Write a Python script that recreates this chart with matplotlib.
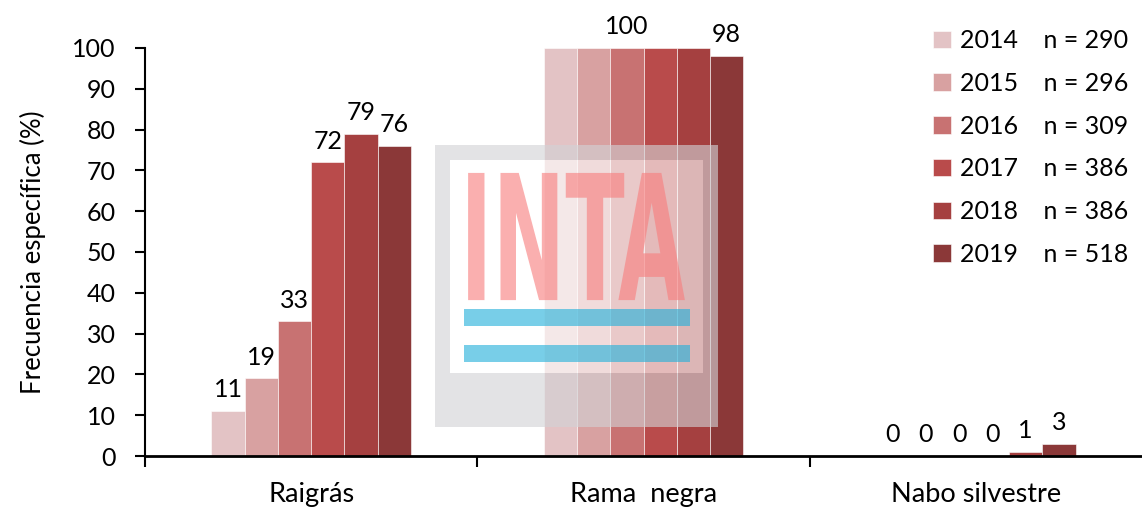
import matplotlib
matplotlib.use('Agg')
import matplotlib.pyplot as plt
from matplotlib.patches import Rectangle, PathPatch
from matplotlib.path import Path
from matplotlib.textpath import TextPath
from matplotlib.font_manager import FontProperties
from matplotlib.transforms import Affine2D
import numpy as np

plt.rcParams['font.family'] = ['Lato', 'DejaVu Sans']

# datos
especies = ['Raigrás', 'Rama  negra', 'Nabo silvestre']
anios = ['2014', '2015', '2016', '2017', '2018', '2019']
n_muestras = [290, 296, 309, 386, 386, 518]
frecuencias = {
    '2014': [11, 100, 0],
    '2015': [19, 100, 0],
    '2016': [33, 100, 0],
    '2017': [72, 100, 0],
    '2018': [79, 100, 1],
    '2019': [76, 98, 3],
}
colores = ['#E3C3C5', '#D8A1A1', '#C87272', '#B94B4B', '#A54040', '#8B3838']

fig = plt.figure(figsize=(11.42, 5.08), dpi=100)
ax = fig.add_axes([145/1142, 1 - 456/508, 1 - 145/1142, (456 - 48)/508])

x = np.arange(len(especies))
ancho = 0.1
handles = []
for i, anio in enumerate(anios):
    pos = x + (i - 2.5) * ancho
    vals = frecuencias[anio]
    b = ax.bar(pos, vals, ancho, color=colores[i], edgecolor='white', linewidth=0.4, zorder=2)
    handles.append(b)
    for j, (p, v) in enumerate(zip(pos, vals)):
        # en Rama negra solo se rotula el 100 de 2016 y el ultimo valor
        if j == 1 and i not in (2, 5):
            continue
        ax.annotate(str(v), (p, v), xytext=(0, 7), textcoords='offset points',
                    ha='center', va='bottom', fontsize=18, annotation_clip=False)

ax.set_xlim(-0.5, 2.5)
ax.set_ylim(0, 100)
ax.set_yticks(range(0, 101, 10))
ax.set_xticks(x)
ax.set_xticklabels(especies, fontsize=19.5)
ax.set_xticks([-0.5, 0.5, 1.5], minor=True)
ax.tick_params(axis='x', which='major', length=0, pad=19)
ax.tick_params(axis='x', which='minor', length=8, width=1.5, direction='out')
ax.tick_params(axis='y', length=7, width=1.5, direction='out', labelsize=18, pad=14)
for s in ['top', 'right']:
    ax.spines[s].set_visible(False)
ax.spines['bottom'].set_linewidth(2)
ax.spines['left'].set_linewidth(1.5)
ax.set_ylabel('Frecuencia específica (%)', fontsize=18.5, labelpad=19)

etiquetas = [f'{a}    n = {n}' for a, n in zip(anios, n_muestras)]
fig.legend(handles, etiquetas, loc='upper left', bbox_to_anchor=(933/1142, 1 - 29/508),
           frameon=False, fontsize=18, handlelength=0.7, handleheight=0.7,
           handletextpad=0.4, labelspacing=0.79, borderaxespad=0, borderpad=0)

# marca de agua INTA
wm = fig.add_axes([435/1142, 1 - 427/508, 283/1142, 282/508])
wm.set_xlim(0, 1)
wm.set_ylim(0, 1)
wm.axis('off')
alfa = 0.62
x0, y0, x1, y1 = 0.053, 0.191, 0.947, 0.947
marco = Path([(0, 0), (1, 0), (1, 1), (0, 1), (0, 0),
              (x0, y0), (x0, y1), (x1, y1), (x1, y0), (x0, y0)],
             [Path.MOVETO, Path.LINETO, Path.LINETO, Path.LINETO, Path.CLOSEPOLY,
              Path.MOVETO, Path.LINETO, Path.LINETO, Path.LINETO, Path.CLOSEPOLY])
wm.add_patch(PathPatch(marco, color='#D2D3D6', alpha=alfa, lw=0))
wm.add_patch(Rectangle((x0, y0), x1 - x0, y1 - y0, color='white', alpha=alfa, lw=0))
wm.add_patch(Rectangle((0.102, 0.358), 0.799, 0.060, color='#25B1DA', alpha=alfa, lw=0))
wm.add_patch(Rectangle((0.102, 0.230), 0.799, 0.061, color='#25B1DA', alpha=alfa, lw=0))
tp = TextPath((0, 0), 'INTA', prop=FontProperties(family='DejaVu Sans', weight='bold'))
ext = tp.get_extents()
tr = Affine2D().translate(-ext.x0, -ext.y0).scale(0.766 / ext.width, 0.451 / ext.height).translate(0.117, 0.450)
wm.add_patch(PathPatch(tr.transform_path(tp), color='#F87E7E', alpha=alfa, lw=0))

plt.savefig('out.png', dpi=100)
